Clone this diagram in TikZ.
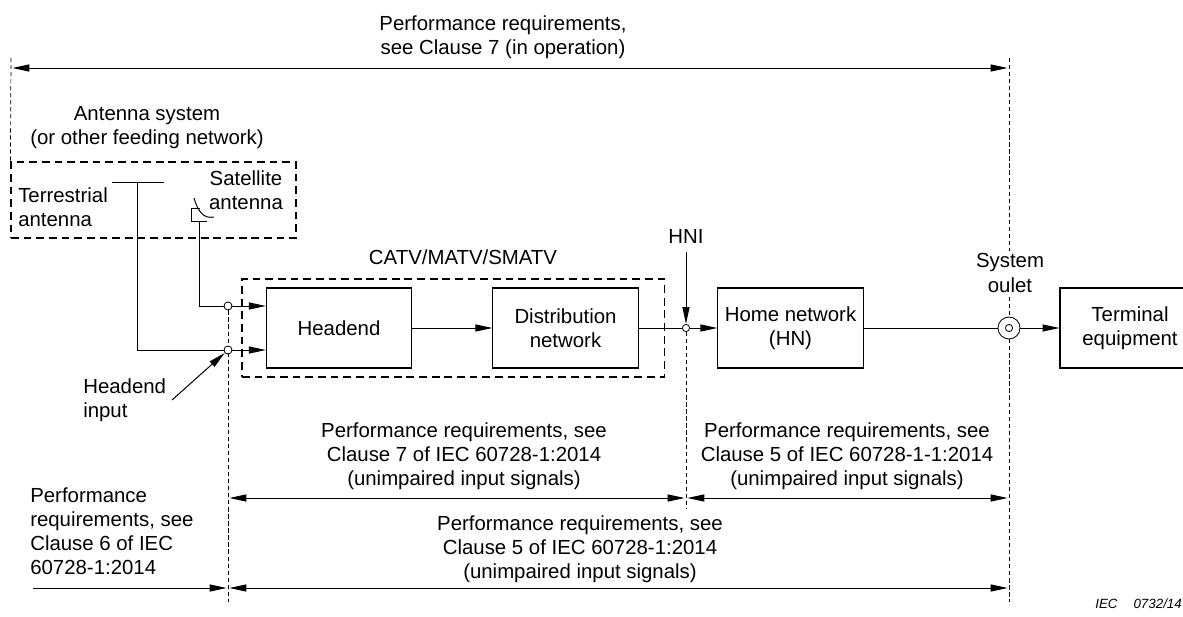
\documentclass[tikz,border=0pt]{standalone}
\usepackage{fontspec}
\setmainfont{Liberation Sans}
\usetikzlibrary{arrows.meta,positioning,backgrounds}

\begin{document}
\begin{tikzpicture}[
        x=0.025cm, y=-0.025cm,
        every node/.style={font=\fontsize{14.5}{17.1}\selectfont, inner sep=0pt},
        box/.style={rectangle, draw, line width=0.8pt, minimum width=3.63cm, minimum height=2cm, align=center},
        dashbox/.style={rectangle, draw, line width=0.8pt, dash pattern=on 5.5pt off 3.5pt},
        txt/.style={align=center},
        port/.style={circle, draw, line width=0.6pt, fill=white, minimum size=0.2cm},
        wire/.style={line width=0.7pt},
        arrow/.style={line width=0.7pt, -{Triangle[length=12pt,width=5pt]}},
        dimline/.style={line width=0.7pt, {Triangle[length=12pt,width=5pt]}-{Triangle[length=12pt,width=5pt]}, shorten <=1pt, shorten >=1pt},
        refline/.style={line width=0.5pt, dash pattern=on 3pt off 2pt}
    ]
        \useasboundingbox (0,0) rectangle (1183,617);

        % Title
        \node[txt] (toplbl) at (503,37) {Performance requirements,\\see Clause 7 (in operation)};

        % Antenna system
        \node[txt] (antlbl) at (147,128) {Antenna system\\(or other feeding network)};
        \node[dashbox, minimum width=7.125cm, minimum height=1.9cm] (antsys) at (153.5,200) {};
        \node[align=left, anchor=west] (terrlbl) at (18,207) {Terrestrial\\antenna};
        \node[txt] (satlbl) at (246,190) {Satellite\\antenna};
        \draw[wire] (112,182) -- (164,182);
        \draw[wire] (200,208) -- (191,208) -- (191,221) -- (207,221);
        \draw[wire] (194,198) .. controls (198,212) and (204,219) .. (214,217);
        \coordinate (tmast) at (137,182);
        \coordinate (sfeed) at (199,221);

        % CATV/MATV/SMATV
        \node[dashbox, minimum width=10.55cm, minimum height=2.45cm] (catv) at (453,328) {};
        \node (catvlbl) at (463,257) {CATV/MATV/SMATV};
        \node[box] (headend) at (339,328) {Headend};
        \node[box] (distnet) at (565.5,328) {Distribution\\network};

        % Headend inputs
        \node[port] (satin) at (228,306) {};
        \node[port] (terin) at (228,350) {};
        \node[align=left, anchor=west] (hinlbl) at (83,400) {Headend\\input};
        \coordinate (hinptr) at (172,400);

        % HNI and home network
        \node[port, minimum size=0.18cm] (hni) at (686,328) {};
        \node (hnilbl) at (686,236) {HNI};
        \coordinate (hnitop) at (686,252);
        \node[box] (homenet) at (790.5,328) {Home network\\(HN)};

        % System outlet and terminal
        \node[port, minimum size=0.55cm] (outlet) at (1009,328) {};
        \node[circle, draw, line width=0.6pt, minimum size=0.18cm] (outletin) at (outlet) {};
        \node[txt, fill=white, inner sep=2pt] (outletlbl) at (1010,273) {System\\oulet};
        \node[box, minimum width=3.5cm] (terminal) at (1130,328) {Terminal\\equipment};

        % Signal path
        \draw[wire] (tmast) |- (terin);
        \draw[wire] (sfeed) |- (satin);
        \draw[arrow] (satin) -- (satin -| headend.west);
        \draw[arrow] (terin) -- (terin -| headend.west);
        \draw[arrow] (headend) -- (distnet);
        \draw[wire] (distnet) -- (hni);
        \draw[arrow] (hni) -- (homenet);
        \draw[wire] (homenet) -- (outlet);
        \draw[arrow] (outlet) -- (terminal);
        \draw[arrow] (hinptr) -- (terin);
        \draw[arrow] (hnitop) -- (hni);

        % Reference lines
        \coordinate (ltop) at (11,58);
        \coordinate (rtop) at (1009,58);
        \coordinate (rbot) at (1009,602);
        \coordinate (lbot) at (228,602);
        \coordinate (hnibot) at (686,509);
        \begin{scope}[on background layer]
            \draw[refline] (ltop) -- (antsys.north west);
            \draw[refline] (rtop) -- (rbot);
            \draw[refline] (satin) -- (lbot);
            \draw[refline] (hni) -- (hnibot);
        \end{scope}

        % Dimension lines
        \coordinate (topL) at (11,68);
        \coordinate (topR) at (1009,68);
        \coordinate (midL) at (228,498);
        \coordinate (midC) at (686,498);
        \coordinate (midR) at (1009,498);
        \coordinate (botS) at (33,588);
        \coordinate (botL) at (228,588);
        \coordinate (botR) at (1009,588);
        \draw[dimline] (topL) -- (topR);
        \draw[dimline] (midL) -- (midC);
        \draw[dimline] (midC) -- (midR);
        \draw[arrow, shorten >=1pt] (botS) -- (botL);
        \draw[dimline] (botL) -- (botR);

        % Requirement labels
        \node[txt] (req7) at (464,456) {Performance requirements, see\\Clause 7 of IEC 60728-1:2014\\(unimpaired input signals)};
        \node[txt] (req511) at (847,456) {Performance requirements, see\\Clause 5 of IEC 60728-1-1:2014\\(unimpaired input signals)};
        \node[txt] (req5) at (580,549) {Performance requirements, see\\Clause 5 of IEC 60728-1:2014\\(unimpaired input signals)};
        \node[align=left, anchor=west] (req6) at (30,531) {Performance\\requirements, see\\Clause 6 of IEC\\60728-1:2014};

        % Figure number
        \node[anchor=base west, font=\fontsize{9.5}{11}\selectfont\itshape] (figno) at (1095,608) {IEC\hspace{0.4cm}0732/14};

\end{tikzpicture}
\end{document}
